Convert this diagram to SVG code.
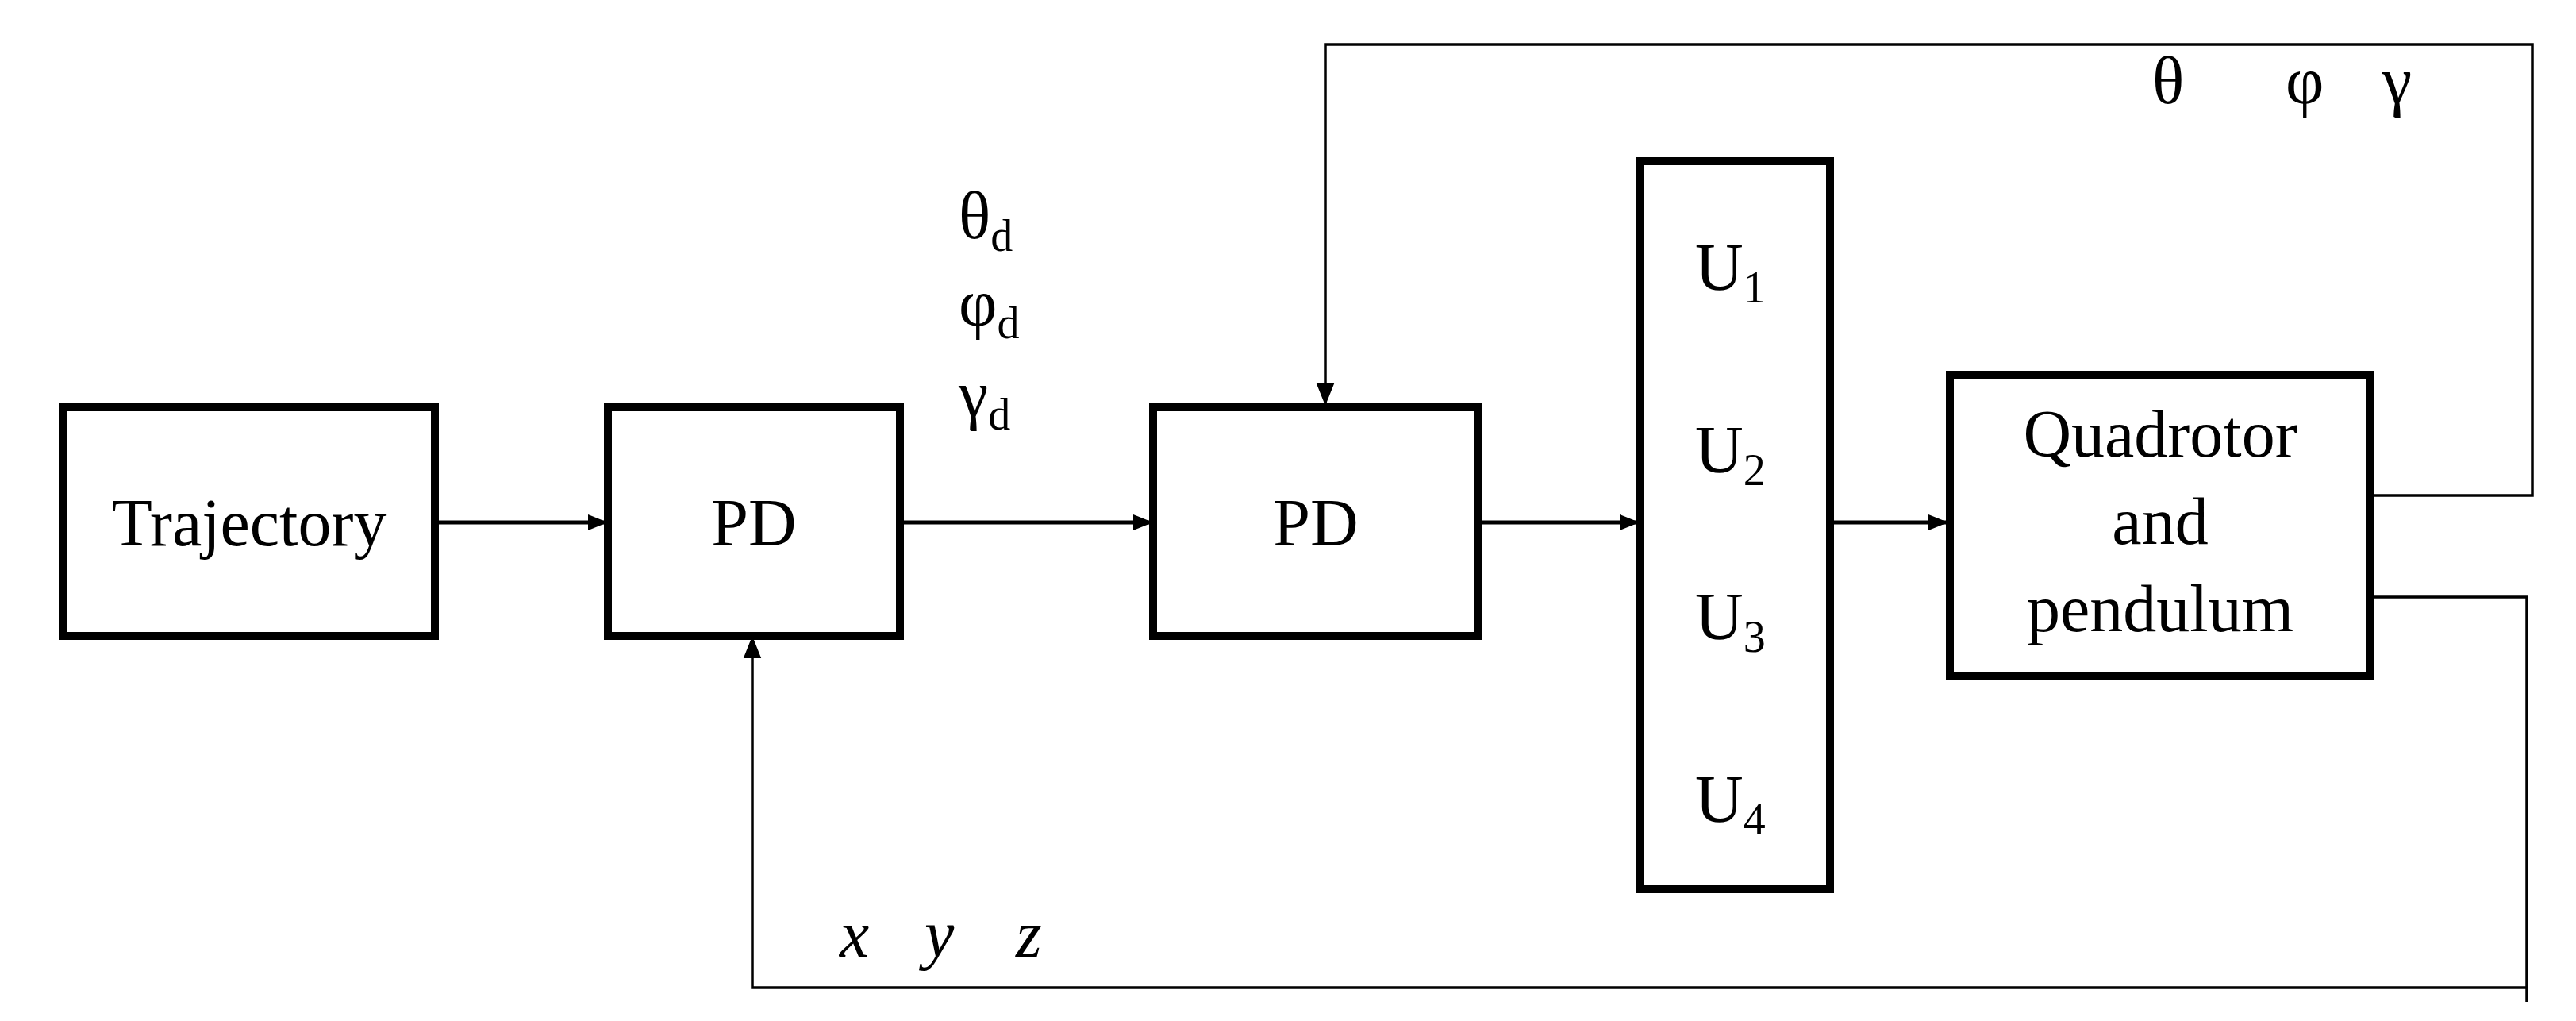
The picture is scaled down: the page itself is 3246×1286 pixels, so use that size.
<svg xmlns="http://www.w3.org/2000/svg" width="3246" height="1286" viewBox="0 0 3246 1286">
<style>
.box{fill:#fff;stroke:#000;stroke-width:10}
.t{font-family:"Liberation Serif",serif;font-size:84px;fill:#000}
.c{text-anchor:middle}
.w{fill:none;stroke:#000;stroke-width:5}
.f{fill:none;stroke:#000;stroke-width:3.5}
.s{font-size:56px}
</style>
<defs>
<marker id="a" viewBox="0 0 10 10" refX="10" refY="5" markerWidth="5" markerHeight="5" orient="auto" markerUnits="strokeWidth"><path d="M0,1 L10,5 L0,9 z" fill="#000"/></marker>
<marker id="b" viewBox="0 0 10 10" refX="10" refY="5" markerWidth="8" markerHeight="8" orient="auto" markerUnits="strokeWidth"><path d="M0,1 L10,5 L0,9 z" fill="#000"/></marker>
</defs>
<g id="connectors">
<line class="w" x1="548" y1="658" x2="766" y2="658" marker-end="url(#a)"/>
<line class="w" x1="1134" y1="658" x2="1453" y2="658" marker-end="url(#a)"/>
<line class="w" x1="1863" y1="658" x2="2066" y2="658" marker-end="url(#a)"/>
<line class="w" x1="2306" y1="658" x2="2455" y2="658" marker-end="url(#a)"/>
<polyline class="f" points="2990,624 3191,624 3191,56 1670,56 1670,511" marker-end="url(#b)"/>
<polyline class="f" points="2990,752 3184,752 3184,1244 948,1244 948,801" marker-end="url(#b)"/>
<line class="f" x1="3184" y1="1244" x2="3184" y2="1262"/>
</g>
<g id="trajectory"><rect class="box" x="79" y="513" width="469" height="288"/><text class="t c" x="314" y="687">Trajectory</text></g>
<g id="pd1"><rect class="box" x="766" y="513" width="368" height="288"/><text class="t c" x="950" y="687">PD</text></g>
<g id="pd2"><rect class="box" x="1453" y="513" width="410" height="288"/><text class="t c" x="1658" y="687">PD</text></g>
<g id="u"><rect class="box" x="2066" y="203" width="240" height="917"/>
<text class="t" x="2136" y="365">U<tspan class="s" dy="16">1</tspan></text>
<text class="t" x="2136" y="595">U<tspan class="s" dy="16">2</tspan></text>
<text class="t" x="2136" y="805">U<tspan class="s" dy="16">3</tspan></text>
<text class="t" x="2136" y="1035">U<tspan class="s" dy="16">4</tspan></text></g>
<g id="quad"><rect class="box" x="2457" y="472" width="530" height="379"/>
<text class="t c" x="2722" y="575">Quadrotor</text><text class="t c" x="2722" y="685">and</text><text class="t c" x="2722" y="795">pendulum</text></g>
<g id="labels">
<text class="t" x="1208" y="300">θ<tspan class="s" dy="16">d</tspan></text>
<text class="t" x="1208" y="410">φ<tspan class="s" dy="16">d</tspan></text>
<text class="t" x="1208" y="525">γ<tspan class="s" dy="16">d</tspan></text>
<text class="t" x="2712" y="130">θ</text><text class="t" x="2880" y="130">φ</text><text class="t" x="3002" y="130">γ</text>
<text class="t" x="1058" y="1205" font-style="italic">x</text><text class="t" x="1165" y="1205" font-style="italic">y</text><text class="t" x="1280" y="1205" font-style="italic">z</text>
</g>
</svg>
